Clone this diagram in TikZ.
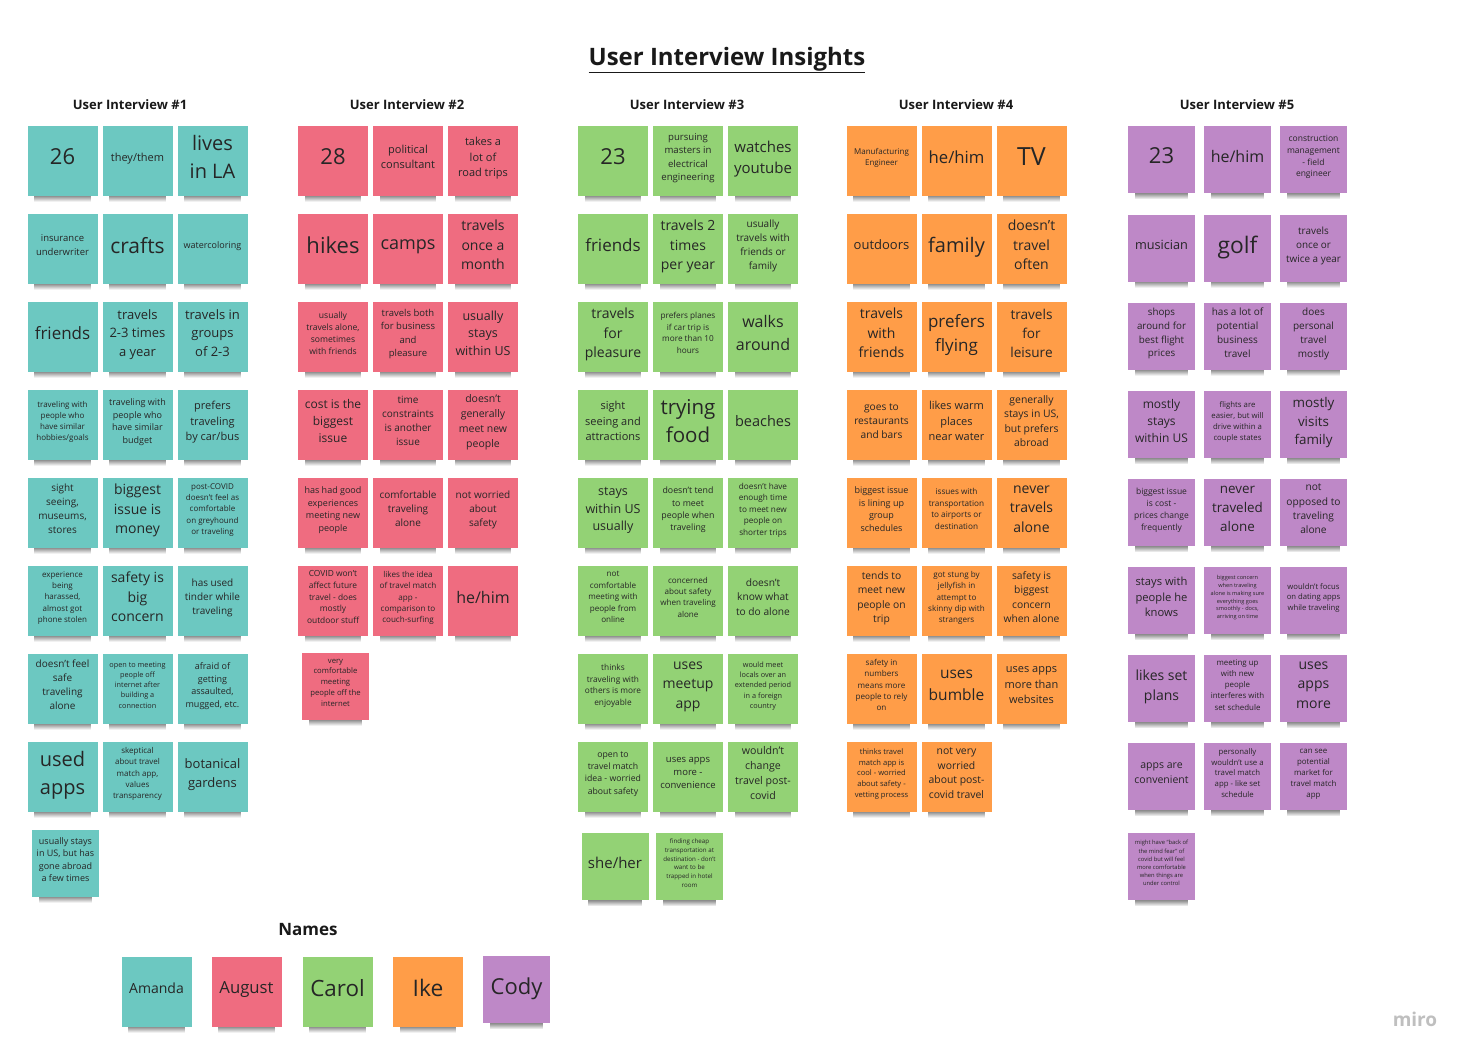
\documentclass[tikz,border=0pt]{standalone}
\usepackage{fontspec}
\setmainfont{Open Sans}
\usetikzlibrary{fadings}

\definecolor{amandateal}{HTML}{6CC8C1}
\definecolor{augustpink}{HTML}{EF6C80}
\definecolor{carolgreen}{HTML}{93D275}
\definecolor{ikeorange}{HTML}{FF9D48}
\definecolor{codypurple}{HTML}{BE88C7}

% font size with a 1.4 line pitch
\newcommand{\fsz}[1]{\fontsize{#1}{\dimexpr #1pt*14/10\relax}\selectfont}

\tikzset{
  note/.style={minimum width=70pt, minimum height=70pt, inner sep=1pt, align=center, text=black!85,
    execute at end node={\rule[-7pt]{0pt}{0pt}},
    append after command={\pgfextra{\fill[black, opacity=.45, path fading=south]
      ([xshift=7pt]\tikzlastnode.south west) rectangle ([xshift=-7pt,yshift=-6pt]\tikzlastnode.south east);}}},
  small/.style={minimum width=67pt, minimum height=67pt},
  amanda/.style={note, fill=amandateal},
  august/.style={note, fill=augustpink},
  carol/.style={note, fill=carolgreen},
  ike/.style={note, fill=ikeorange},
  cody/.style={note, fill=codypurple, small},
  head/.style={font=\bfseries\fsz{13}, text=black!90}
}

\begin{document}
\begin{tikzpicture}[x=1pt, y=-1pt]
      \useasboundingbox[fill=white] (0,0) rectangle (1472,1060);

      \node[font=\bfseries\fsz{24}, text=black!90] (title) at (727,60) {\underline{User Interview Insights}};

      \node[head] (h1) at (130,105) {User Interview \#1};
      \node[head] (h2) at (407,105) {User Interview \#2};
      \node[head] (h3) at (687,105) {User Interview \#3};
      \node[head] (h4) at (956,105) {User Interview \#4};
      \node[head] (h5) at (1237,105) {User Interview \#5};

      % interview 1
      \node[amanda, font=\fsz{22}] (am11) at (62.5,160.5) {26};
      \node[amanda, font=\fsz{11}] (am12) at (137.5,160.5) {they/them};
      \node[amanda, font=\fsz{20}] (am13) at (212.5,160.5) {lives\\in LA};
      \node[amanda, font=\fsz{9.5}] (am21) at (62.5,248.5) {insurance\\underwriter};
      \node[amanda, font=\fsz{21}] (am22) at (137.5,248.5) {crafts};
      \node[amanda, font=\fsz{9}] (am23) at (212.5,248.5) {watercoloring};
      \node[amanda, font=\fsz{17}] (am31) at (62.5,336.5) {friends};
      \node[amanda, font=\fsz{13}] (am32) at (137.5,336.5) {travels\\2-3 times\\a year};
      \node[amanda, font=\fsz{13}] (am33) at (212.5,336.5) {travels in\\groups\\of 2-3};
      \node[amanda, font=\fsz{8}] (am41) at (62.5,424.5) {traveling with\\people who\\have similar\\hobbies/goals};
      \node[amanda, font=\fsz{9}] (am42) at (137.5,424.5) {traveling with\\people who\\have similar\\budget};
      \node[amanda, font=\fsz{11}] (am43) at (212.5,424.5) {prefers\\traveling\\by car/bus};
      \node[amanda, font=\fsz{10}] (am51) at (62.5,512.5) {sight\\seeing,\\museums,\\stores};
      \node[amanda, font=\fsz{14}] (am52) at (137.5,512.5) {biggest\\issue is\\money};
      \node[amanda, font=\fsz{8}] (am53) at (212.5,512.5) {post-COVID\\doesn't feel as\\comfortable\\on greyhound\\or traveling};
      \node[amanda, font=\fsz{8}] (am61) at (62.5,600.5) {experience\\being\\harassed,\\almost got\\phone stolen};
      \node[amanda, font=\fsz{14}] (am62) at (137.5,600.5) {safety is\\big\\concern};
      \node[amanda, font=\fsz{10}] (am63) at (212.5,600.5) {has used\\tinder while\\traveling};
      \node[amanda, font=\fsz{10}] (am71) at (62.5,688.5) {doesn't feel\\safe\\traveling\\alone};
      \node[amanda, font=\fsz{7.3}] (am72) at (137.5,688.5) {open to meeting\\people off\\internet after\\building a\\connection};
      \node[amanda, font=\fsz{9}] (am73) at (212.5,688.5) {afraid of\\getting\\assaulted,\\mugged, etc.};
      \node[amanda, font=\fsz{20}] (am81) at (62.5,776.5) {used\\apps};
      \node[amanda, font=\fsz{8}] (am82) at (137.5,776.5) {skeptical\\about travel\\match app,\\values\\transparency};
      \node[amanda, font=\fsz{13}] (am83) at (212.5,776.5) {botanical\\gardens};
      \node[amanda, small, font=\fsz{9}] (am91) at (65.5,863) {usually stays\\in US, but has\\gone abroad\\a few times};

      % interview 2
      \node[august, font=\fsz{22}] (au11) at (333,160.5) {28};
      \node[august, font=\fsz{11}] (au12) at (408,160.5) {political\\consultant};
      \node[august, font=\fsz{11}] (au13) at (483,160.5) {takes a\\lot of\\road trips};
      \node[august, font=\fsz{22}] (au21) at (333,248.5) {hikes};
      \node[august, font=\fsz{18}] (au22) at (408,248.5) {camps};
      \node[august, font=\fsz{14}] (au23) at (483,248.5) {travels\\once a\\month};
      \node[august, font=\fsz{8.6}] (au31) at (333,336.5) {usually\\travels alone,\\sometimes\\with friends};
      \node[august, font=\fsz{9.5}] (au32) at (408,336.5) {travels both\\for business\\and\\pleasure};
      \node[august, font=\fsz{12.5}] (au33) at (483,336.5) {usually\\stays\\within US};
      \node[august, font=\fsz{12}] (au41) at (333,424.5) {cost is the\\biggest\\issue};
      \node[august, font=\fsz{10}] (au42) at (408,424.5) {time\\constraints\\is another\\issue};
      \node[august, font=\fsz{10.5}] (au43) at (483,424.5) {doesn't\\generally\\meet new\\people};
      \node[august, font=\fsz{9}] (au51) at (333,512.5) {has had good\\experiences\\meeting new\\people};
      \node[august, font=\fsz{10}] (au52) at (408,512.5) {comfortable\\traveling\\alone};
      \node[august, font=\fsz{10}] (au53) at (483,512.5) {not worried\\about\\safety};
      \node[august, font=\fsz{8.4}] (au61) at (333,600.5) {COVID won't\\affect future\\travel - does\\mostly\\outdoor stuff};
      \node[august, font=\fsz{8.1}] (au62) at (408,600.5) {likes the idea\\of travel match\\app -\\comparison to\\couch-surfing};
      \node[august, font=\fsz{16}] (au63) at (483,600.5) {he/him};
      \node[august, small, font=\fsz{7.7}] (au71) at (335.5,686) {very\\comfortable\\meeting\\people off the\\internet};

      % interview 3
      \node[carol, font=\fsz{22}] (ca11) at (613,160.5) {23};
      \node[carol, font=\fsz{9.6}] (ca12) at (688,160.5) {pursuing\\masters in\\electrical\\engineering};
      \node[carol, font=\fsz{15}] (ca13) at (763,160.5) {watches\\youtube};
      \node[carol, font=\fsz{17}] (ca21) at (613,248.5) {friends};
      \node[carol, font=\fsz{14}] (ca22) at (688,248.5) {travels 2\\times\\per year};
      \node[carol, font=\fsz{10}] (ca23) at (763,248.5) {usually\\travels with\\friends or\\family};
      \node[carol, font=\fsz{14}] (ca31) at (613,336.5) {travels\\for\\pleasure};
      \node[carol, font=\fsz{8.2}] (ca32) at (688,336.5) {prefers planes\\if car trip is\\more than 10\\hours};
      \node[carol, font=\fsz{16}] (ca33) at (763,336.5) {walks\\around};
      \node[carol, font=\fsz{11}] (ca41) at (613,424.5) {sight\\seeing and\\attractions};
      \node[carol, font=\fsz{20.5}] (ca42) at (688,424.5) {trying\\food};
      \node[carol, font=\fsz{14.5}] (ca43) at (763,424.5) {beaches};
      \node[carol, font=\fsz{12.5}] (ca51) at (613,512.5) {stays\\within US\\usually};
      \node[carol, font=\fsz{8.8}] (ca52) at (688,512.5) {doesn't tend\\to meet\\people when\\traveling};
      \node[carol, font=\fsz{8.2}] (ca53) at (763,512.5) {doesn't have\\enough time\\to meet new\\people on\\shorter trips};
      \node[carol, font=\fsz{8.1}] (ca61) at (613,600.5) {not\\comfortable\\meeting with\\people from\\online};
      \node[carol, font=\fsz{8.1}] (ca62) at (688,600.5) {concerned\\about safety\\when traveling\\alone};
      \node[carol, font=\fsz{10.2}] (ca63) at (763,600.5) {doesn't\\know what\\to do alone};
      \node[carol, font=\fsz{8.3}] (ca71) at (613,688.5) {thinks\\traveling with\\others is more\\enjoyable};
      \node[carol, font=\fsz{14}] (ca72) at (688,688.5) {uses\\meetup\\app};
      \node[carol, font=\fsz{7.3}] (ca73) at (763,688.5) {would meet\\locals over an\\extended period\\in a foreign\\country};
      \node[carol, font=\fsz{8.7}] (ca81) at (613,776.5) {open to\\travel match\\idea - worried\\about safety};
      \node[carol, font=\fsz{9.5}] (ca82) at (688,776.5) {uses apps\\more -\\convenience};
      \node[carol, font=\fsz{10.6}] (ca83) at (763,776.5) {wouldn't\\change\\travel post-\\covid};
      \node[carol, small, font=\fsz{15}] (ca91) at (615,866.5) {she/her};
      \node[carol, small, font=\fsz{6.2}] (ca92) at (689.5,866.5) {finding cheap\\transportation at\\destination - don't\\want to be\\trapped in hotel\\room};

      % interview 4
      \node[ike, font=\fsz{8}] (ik11) at (881.5,160.5) {Manufacturing\\Engineer};
      \node[ike, font=\fsz{16.7}] (ik12) at (956.5,160.5) {he/him};
      \node[ike, font=\fsz{25}] (ik13) at (1031.5,160.5) {TV};
      \node[ike, font=\fsz{13}] (ik21) at (881.5,248.5) {outdoors};
      \node[ike, font=\fsz{20}] (ik22) at (956.5,248.5) {family};
      \node[ike, font=\fsz{14}] (ik23) at (1031.5,248.5) {doesn't\\travel\\often};
      \node[ike, font=\fsz{14}] (ik31) at (881.5,336.5) {travels\\with\\friends};
      \node[ike, font=\fsz{17}] (ik32) at (956.5,336.5) {prefers\\flying};
      \node[ike, font=\fsz{13.6}] (ik33) at (1031.5,336.5) {travels\\for\\leisure};
      \node[ike, font=\fsz{10.2}] (ik41) at (881.5,424.5) {goes to\\restaurants\\and bars};
      \node[ike, font=\fsz{11}] (ik42) at (956.5,424.5) {likes warm\\places\\near water};
      \node[ike, font=\fsz{10.4}] (ik43) at (1031.5,424.5) {generally\\stays in US,\\but prefers\\abroad};
      \node[ike, font=\fsz{9}] (ik51) at (881.5,512.5) {biggest issue\\is lining up\\group\\schedules};
      \node[ike, font=\fsz{8.2}] (ik52) at (956.5,512.5) {issues with\\transportation\\to airports or\\destination};
      \node[ike, font=\fsz{14}] (ik53) at (1031.5,512.5) {never\\travels\\alone};
      \node[ike, font=\fsz{10.3}] (ik61) at (881.5,600.5) {tends to\\meet new\\people on\\trip};
      \node[ike, font=\fsz{8.1}] (ik62) at (956.5,600.5) {got stung by\\jellyfish in\\attempt to\\skinny dip with\\strangers};
      \node[ike, font=\fsz{10.3}] (ik63) at (1031.5,600.5) {safety is\\biggest\\concern\\when alone};
      \node[ike, font=\fsz{8.1}] (ik71) at (881.5,688.5) {safety in\\numbers\\means more\\people to rely\\on};
      \node[ike, font=\fsz{15.5}] (ik72) at (956.5,688.5) {uses\\bumble};
      \node[ike, font=\fsz{11}] (ik73) at (1031.5,688.5) {uses apps\\more than\\websites};
      \node[ike, font=\fsz{7.6}] (ik81) at (881.5,776.5) {thinks travel\\match app is\\cool - worried\\about safety -\\vetting process};
      \node[ike, font=\fsz{10.4}] (ik82) at (956.5,776.5) {not very\\worried\\about post-\\covid travel};

      % interview 5
      \node[cody, font=\fsz{22}] (co11) at (1161.5,159.5) {23};
      \node[cody, font=\fsz{16}] (co12) at (1237.5,159.5) {he/him};
      \node[cody, font=\fsz{8.5}] (co13) at (1313.5,159.5) {construction\\management\\- field\\engineer};
      \node[cody, font=\fsz{12.7}] (co21) at (1161.5,248) {musician};
      \node[cody, font=\fsz{22.8}] (co22) at (1237.5,248) {golf};
      \node[cody, font=\fsz{9.9}] (co23) at (1313.5,248) {travels\\once or\\twice a year};
      \node[cody, font=\fsz{9.8}] (co31) at (1161.5,336) {shops\\around for\\best flight\\prices};
      \node[cody, font=\fsz{10}] (co32) at (1237.5,336) {has a lot of\\potential\\business\\travel};
      \node[cody, font=\fsz{10}] (co33) at (1313.5,336) {does\\personal\\travel\\mostly};
      \node[cody, font=\fsz{12}] (co41) at (1161.5,424.5) {mostly\\stays\\within US};
      \node[cody, font=\fsz{7.8}] (co42) at (1237.5,424.5) {flights are\\easier, but will\\drive within a\\couple states};
      \node[cody, font=\fsz{13.4}] (co43) at (1313.5,424.5) {mostly\\visits\\family};
      \node[cody, font=\fsz{8.5}] (co51) at (1161.5,512.5) {biggest issue\\is cost -\\prices change\\frequently};
      \node[cody, font=\fsz{13.4}] (co52) at (1237.5,512.5) {never\\traveled\\alone};
      \node[cody, font=\fsz{10.2}] (co53) at (1313.5,512.5) {not\\opposed to\\traveling\\alone};
      \node[cody, font=\fsz{11.2}] (co61) at (1161.5,600.5) {stays with\\people he\\knows};
      \node[cody, font=\fsz{5.6}] (co62) at (1237.5,600.5) {biggest concern\\when traveling\\alone is making sure\\everything goes\\smoothly - docs,\\arriving on time};
      \node[cody, font=\fsz{7.7}] (co63) at (1313.5,600.5) {wouldn't focus\\on dating apps\\while traveling};
      \node[cody, font=\fsz{14}] (co71) at (1161.5,688.5) {likes set\\plans};
      \node[cody, font=\fsz{7.9}] (co72) at (1237.5,688.5) {meeting up\\with new\\people\\interferes with\\set schedule};
      \node[cody, font=\fsz{14}] (co73) at (1313.5,688.5) {uses\\apps\\more};
      \node[cody, font=\fsz{10.5}] (co81) at (1161.5,776.5) {apps are\\convenient};
      \node[cody, font=\fsz{7.8}] (co82) at (1237.5,776.5) {personally\\wouldn't use a\\travel match\\app - like set\\schedule};
      \node[cody, font=\fsz{7.9}] (co83) at (1313.5,776.5) {can see\\potential\\market for\\travel match\\app};
      \node[cody, font=\fsz{5.8}] (co91) at (1161.5,866.5) {might have ``back of\\the mind fear'' of\\covid but will feel\\more comfortable\\when things are\\under control};

      % names
      \node[font=\bfseries\fsz{17}, text=black!90] (names) at (308,930) {Names};
      \node[amanda, font=\fsz{14}] (n1) at (156.5,991.5) {Amanda};
      \node[august, font=\fsz{16.7}] (n2) at (246.5,991.5) {August};
      \node[carol, font=\fsz{22.4}] (n3) at (337.5,991.5) {Carol};
      \node[ike, font=\fsz{22.8}] (n4) at (428,991.5) {Ike};
      \node[cody, font=\fsz{22}] (n5) at (516.5,989.5) {Cody};

      \node[font=\bfseries\fsz{19}, text=black!25] (logo) at (1415,1019) {miro};
\end{tikzpicture}
\end{document}
